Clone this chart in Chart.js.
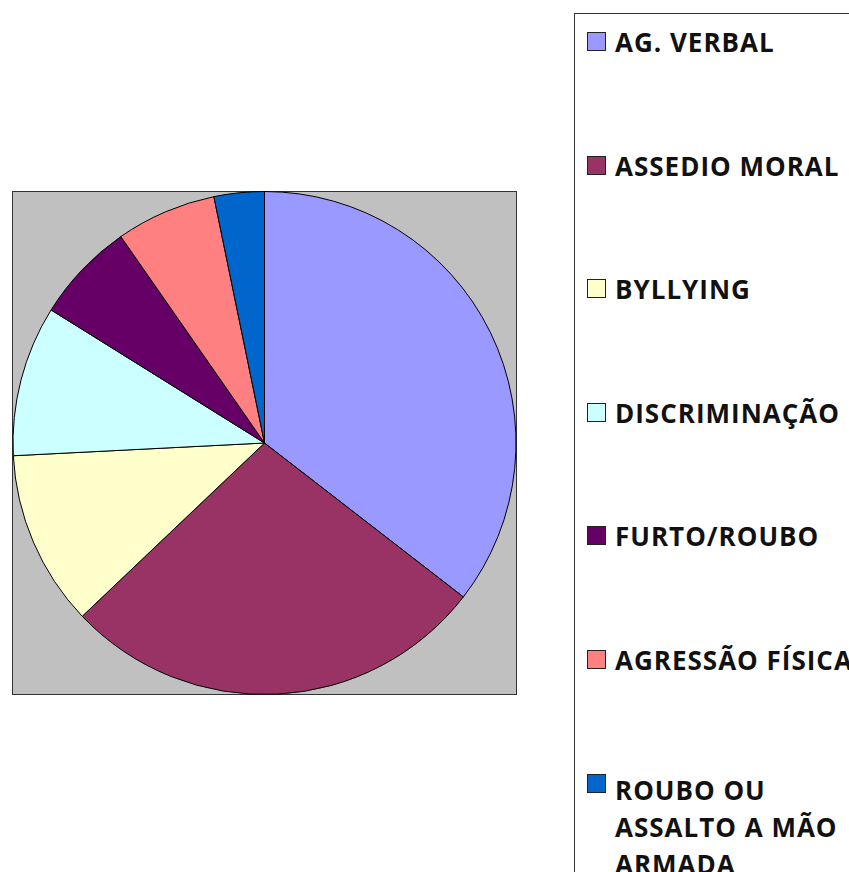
<!DOCTYPE html>
<html>
<head>
<meta charset="utf-8">
<script src="https://cdn.jsdelivr.net/npm/chart.js@4"></script>
<style>
    body { margin: 0; background: #fff; width: 849px; height: 872px; overflow: hidden; position: relative; }
    #wrap { position: absolute; left: 0; top: 0; width: 849px; height: 872px; }
    #legend {
        position: absolute; left: 574px; top: 13px; width: 300px; height: 900px;
        border: 1px solid #333; box-sizing: border-box; background: #fff;
        font-family: "Open Sans", sans-serif; font-weight: bold; font-size: 26px; letter-spacing: 1px; color: #111;
    }
    .item { position: absolute; left: 0; }
    .box { position: absolute; left: 12px; width: 17px; height: 17px; border: 1px solid #222; }
    .txt { position: absolute; left: 40px; line-height: 37px; white-space: nowrap; }
</style>
</head>
<body>
<div id="wrap"><canvas id="pieChart" width="849" height="872"></canvas></div>
<div id="legend"></div>
<script>
const categories = ["AG. VERBAL", "ASSEDIO MORAL", "BYLLYING", "DISCRIMINAÇÃO", "FURTO/ROUBO", "AGRESSÃO FÍSICA", ["ROUBO OU", "ASSALTO A MÃO", "ARMADA"]];
const counts = [22, 17, 7, 6, 4, 4, 2];
const sliceColors = ["#9999FF", "#993366", "#FFFFCC", "#CCFFFF", "#660066", "#FF8080", "#0066CC"];

const plotBackground = {
    id: "plotBackground",
    beforeDraw(chart) {
        const { ctx, chartArea } = chart;
        ctx.save();
        ctx.fillStyle = "#C0C0C0";
        ctx.fillRect(chartArea.left, chartArea.top, chartArea.width, chartArea.height);
        ctx.strokeStyle = "#333";
        ctx.lineWidth = 1;
        ctx.strokeRect(chartArea.left + 0.5, chartArea.top + 0.5, chartArea.width - 1, chartArea.height - 1);
        ctx.restore();
    }
};

function buildLegend(chart) {
    const legend = document.getElementById("legend");
    const colors = chart.data.datasets[0].backgroundColor;
    chart.data.labels.forEach(function(label, i) {
        const lines = Array.isArray(label) ? label : [label];
        const item = document.createElement("div");
        item.className = "item";
        item.style.top = (18 + i * 123.6) + "px";
        const box = document.createElement("div");
        box.className = "box";
        box.style.background = colors[i];
        box.style.top = "0px";
        const txt = document.createElement("div");
        txt.className = "txt";
        txt.style.top = (lines.length > 1 ? -2 : -8) + "px";
        txt.innerHTML = lines.join("<br>");
        item.appendChild(box);
        item.appendChild(txt);
        legend.appendChild(item);
    });
}

const ctx = document.getElementById("pieChart").getContext("2d");
const pieChart = new Chart(ctx, {
    type: "pie",
    data: {
        labels: categories,
        datasets: [{
            data: counts,
            backgroundColor: sliceColors,
            borderColor: "#000",
            borderWidth: 1
        }]
    },
    options: {
        responsive: false,
        animation: false,
        events: [],
        layout: { padding: { left: 12, top: 191, right: 332, bottom: 177 } },
        plugins: {
            legend: { display: false },
            tooltip: { enabled: false }
        }
    },
    plugins: [plotBackground]
});

buildLegend(pieChart);
</script>
</body>
</html>
